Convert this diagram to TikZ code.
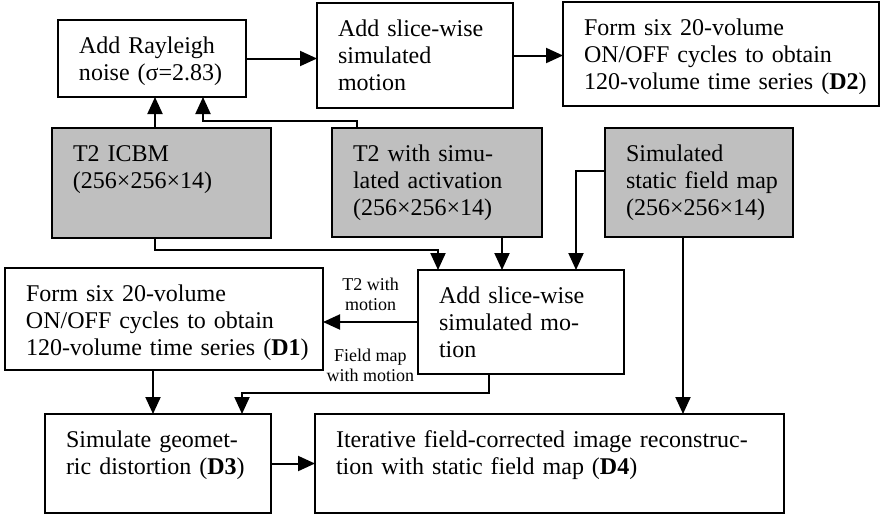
\documentclass[tikz,border=0pt]{standalone}
\usepackage{fontspec}
\setmainfont{Liberation Serif}
\usetikzlibrary{arrows.meta, calc}

\begin{document}
\begin{tikzpicture}[x=0.5pt, y=-0.5pt,
    stage/.style={draw, line width=1pt, anchor=north west, outer sep=0pt,
        inner xsep=1pt, inner ysep=0pt, align=left, text height=16.5pt,
        font=\fontsize{12}{13.6}\selectfont,
        execute at begin node={\leftskip=9.5pt\relax}},
    source/.style={stage, fill=black!25},
    flow/.style={line width=1pt, -{Triangle[length=8.5pt, width=7.5pt]}},
    tag/.style={font=\fontsize{9}{10}\selectfont, align=center, inner sep=1pt}]
\useasboundingbox (0,0) rectangle (881,515);

% top row
\node[stage, text width=92pt, text depth=22pt] (noise) at (58,20) {Add Rayleigh\\noise (σ=2.83)};
\node[stage, text width=96pt, text depth=36pt] (motionA) at (317,3) {Add slice-wise\\simulated\\motion};
\node[stage, text width=156pt, text depth=35.5pt] (seriesA) at (563,2) {Form six 20-volume\\ON/OFF cycles to obtain\\120-volume time series (\textbf{D2})};

% input volumes
\node[source, text width=107.5pt, text depth=38.5pt] (icbm) at (52,128) {T2 ICBM\\(256×256×14)};
\node[source, text width=103pt, text depth=38pt] (activ) at (332,128) {T2 with simu-\\lated activation\\(256×256×14)};
\node[source, text width=92pt, text depth=38pt] (fieldmap) at (605,128) {Simulated\\static field map\\(256×256×14)};

% lower part
\node[stage, text width=157pt, text depth=34.5pt] (seriesB) at (5,268) {Form six 20-volume\\ON/OFF cycles to obtain\\120-volume time series (\textbf{D1})};
\node[stage, text width=101pt, text depth=35.5pt] (motionB) at (418,270) {Add slice-wise\\simulated mo-\\tion};
\node[stage, text width=111pt, text depth=33pt] (distort) at (45,414) {Simulate geomet-\\ric distortion (\textbf{D3})};
\node[stage, text width=232.5pt, text depth=33pt] (recon) at (315,414) {Iterative field-corrected image reconstruc-\\tion with static field map (\textbf{D4})};

\coordinate (j1) at (203,121);
\coordinate (j2) at (438,250);
\coordinate (j3) at (576,171);
\coordinate (j4) at (242,393);

\draw[flow] (noise.east) -- (noise.east -| motionA.west);
\draw[flow] (motionA.east) -- (motionA.east -| seriesA.west);
\draw[flow] ([xshift=-3.25pt]icbm.north) -- ([xshift=-3.25pt]icbm.north |- noise.south);
\draw[flow] ([xshift=12.5pt]activ.north west) |- (j1) -- (j1 |- noise.south);
\draw[flow] ([xshift=-3.25pt]icbm.south) |- (j2) -- (j2 |- motionB.north);
\draw[flow] ([xshift=32.5pt]activ.south) -- ([xshift=32.5pt]activ.south |- motionB.north);
\draw[flow] (j3 -| fieldmap.west) -- (j3) -- (j3 |- motionB.north);
\draw[flow] ([xshift=-8pt]fieldmap.south) -- ([xshift=-8pt]fieldmap.south |- recon.north);
\draw[flow] (motionB.west) -- node[tag, above=4pt] (t2tag) {T2 with\\motion} (motionB.west -| seriesB.east);
\draw[flow] ([xshift=-16pt]motionB.south) |- node[tag, pos=0.74, above=4pt] (fmtag) {Field map\\with motion} (j4) -- (j4 |- distort.north);
\draw[flow] ([xshift=-5.5pt]seriesB.south) -- ([xshift=-5.5pt]seriesB.south |- distort.north);
\draw[flow] (distort.east) -- (recon.west);
\end{tikzpicture}
\end{document}
